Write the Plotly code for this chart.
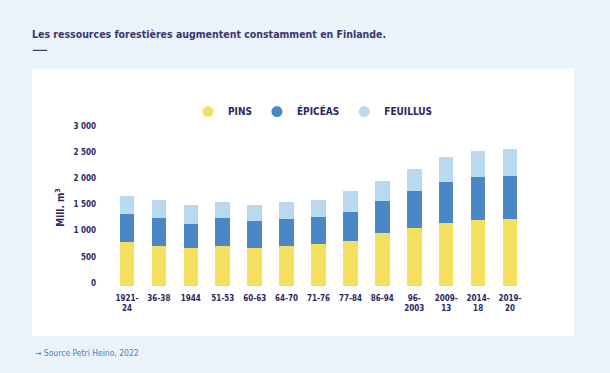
import plotly.graph_objects as go

categories = ["1921-<br>24", "36-38", "1944", "51-53", "60-63", "64-70", "71-76",
              "77-84", "86-94", "96-<br>2003", "2009-<br>13", "2014-<br>18", "2019-<br>20"]
pins = [843, 766, 728, 766, 728, 766, 805, 862, 1015, 1111, 1207, 1265, 1284]
epiceas = [537, 537, 460, 537, 517, 518, 517, 556, 614, 709, 786, 823, 824]
feuillus = [344, 345, 364, 306, 307, 325, 326, 402, 383, 422, 479, 499, 517]
series_names = ["PINS", "ÉPICÉAS", "FEUILLUS"]
colors = ["#F4E05E", "#4A87C7", "#B9D9F0"]
ytick_vals = [0, 500, 1000, 1500, 2000, 2500, 3000]
ytick_text = ["0", "500", "1 000", "1 500", "2 000", "2 500", "3 000"]

NAVY = "#2B2660"
FONT = "DejaVu Sans Condensed, Liberation Sans Narrow, Roboto, sans-serif"

W, H = 610, 373
L, R, T, B = 111, 84, 129.4, 87
pw, ph = W - L - R, H - T - B

def px(x):
    return (x - L) / pw

def py(y):
    return (H - B - y) / ph

fig = go.Figure()
for name, vals, col in zip(series_names, [pins, epiceas, feuillus], colors):
    fig.add_trace(go.Bar(x=categories, y=vals, name=name, marker_color=col,
                         marker_line_width=0, showlegend=False, hoverinfo="y+name"))
for name, col in zip(series_names, colors):
    fig.add_trace(go.Scatter(x=[None], y=[None], mode="markers", name=name,
                             marker=dict(symbol="circle", size=11, color=col)))

fig.update_layout(
    width=W, height=H,
    margin=dict(l=L, r=R, t=T, b=B, pad=0),
    paper_bgcolor="#EAF2FA", plot_bgcolor="white",
    barmode="stack", bargap=0.545,
    font=dict(family=FONT, color=NAVY),
    title=dict(text="<b>Les ressources forestières augmentent constamment en Finlande.</b>",
               x=32 / W, xanchor="left", y=1 - 34 / H, yanchor="middle",
               font=dict(size=10.5, color="#3A3670", family=FONT)),
    legend=dict(orientation="h", x=px(188), xanchor="left", y=py(112), yanchor="middle",
                font=dict(size=10, color=NAVY, family=FONT, weight="bold"),
                bgcolor="rgba(0,0,0,0)", traceorder="normal"),
    xaxis=dict(type="category", showgrid=False, zeroline=False, showline=False,
               tickfont=dict(size=8, color=NAVY, family=FONT, weight="bold"), ticks="",
               ticklabelstandoff=6, fixedrange=True),
    yaxis=dict(range=[0, 3000], tickvals=ytick_vals, ticktext=ytick_text,
               showgrid=False, zeroline=False, showline=False, ticks="",
               tickfont=dict(size=8, color=NAVY, family=FONT, weight="bold"),
               ticklabelstandoff=14, ticklabelshift=-3,
               title=dict(text="<b>Mill. m<sup>3</sup></b>", standoff=6,
                          font=dict(size=10, color=NAVY, family=FONT)),
               fixedrange=True),
    showlegend=True,
)

# white panel behind chart
fig.add_shape(type="rect", xref="paper", yref="paper", layer="below",
              x0=px(32), x1=px(574), y0=py(336), y1=py(69),
              fillcolor="white", line_width=0)
# short rule under title
fig.add_shape(type="line", xref="paper", yref="paper",
              x0=px(33), x1=px(47), y0=py(51), y1=py(51),
              line=dict(color="#3A3670", width=1.2))
# source
fig.add_annotation(text="→ Source Petri Heino, 2022", xref="paper", yref="paper",
                   x=px(33), y=py(353), xanchor="left", yanchor="middle",
                   showarrow=False, font=dict(size=8.5, color="#4A80C8", family=FONT))

fig.write_html("out.html", config={"displayModeBar": False},
               post_script="document.body.style.margin='0';document.body.style.background='#EAF2FA';")
